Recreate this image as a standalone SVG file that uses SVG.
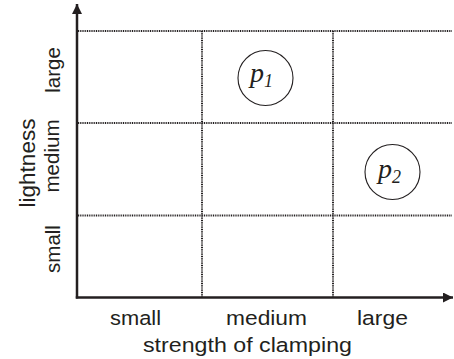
<svg xmlns="http://www.w3.org/2000/svg" width="454" height="359" viewBox="0 0 454 359">
<style>
.axis{stroke:#231f20;stroke-width:2.5;fill:none}
.grid{stroke:#231f20;stroke-width:2;stroke-dasharray:1 0.8;fill:none}
.lbl{font-family:"Liberation Sans",Arial,sans-serif;font-size:20.5px;fill:#231f20}
.node circle{fill:#fff;stroke:#231f20;stroke-width:1.1}
.node text{font-family:"Liberation Serif","Times New Roman",serif;font-style:italic;font-size:28px;fill:#231f20}
</style>
<defs>
<marker id="ah" markerUnits="userSpaceOnUse" markerWidth="12" markerHeight="12" refX="10" refY="5" orient="auto">
<path d="M0,0 L10,5 L0,10 Z" fill="#231f20"/>
</marker>
</defs>
<rect width="454" height="359" fill="#fff"/>
<g id="grid">
<line class="grid" x1="78" y1="31" x2="452" y2="31"/>
<line class="grid" x1="78" y1="123" x2="452" y2="123"/>
<line class="grid" x1="78" y1="215.5" x2="452" y2="215.5"/>
<line class="grid" x1="202" y1="31" x2="202" y2="297"/>
<line class="grid" x1="333" y1="31" x2="333" y2="297"/>
</g>
<g id="connectors">
<line class="axis" x1="77" y1="298.5" x2="77" y2="4" marker-end="url(#ah)"/>
<line class="axis" x1="75.8" y1="297.5" x2="453" y2="297.5" marker-end="url(#ah)"/>
</g>
<g id="labels">
<text class="lbl" x="110" y="325" textLength="51" lengthAdjust="spacingAndGlyphs">small</text>
<text class="lbl" x="226" y="325" textLength="81" lengthAdjust="spacingAndGlyphs">medium</text>
<text class="lbl" x="357" y="325" textLength="51" lengthAdjust="spacingAndGlyphs">large</text>
<text class="lbl" x="143" y="352" textLength="209" lengthAdjust="spacingAndGlyphs">strength of clamping</text>
<text class="lbl" text-anchor="middle" transform="translate(60,70) rotate(-90)">large</text>
<text class="lbl" text-anchor="middle" transform="translate(59,156) rotate(-90)">medium</text>
<text class="lbl" text-anchor="middle" transform="translate(60,249) rotate(-90)">small</text>
<text class="lbl" style="font-size:22.5px" text-anchor="middle" transform="translate(35,163) rotate(-90)">lightness</text>
</g>
<g id="p1" class="node">
<circle cx="265.5" cy="78" r="27.5"/>
<text x="250" y="82">p<tspan font-size="18" dy="5">1</tspan></text>
</g>
<g id="p2" class="node">
<circle cx="392.5" cy="172" r="27.5"/>
<text x="378" y="178">p<tspan font-size="18" dy="5">2</tspan></text>
</g>
</svg>
